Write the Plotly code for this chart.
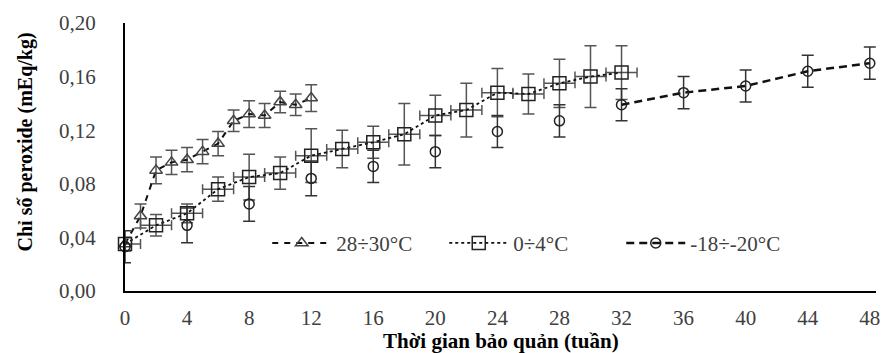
import plotly.graph_objects as go

# ---------------- data ----------------
tri_weeks = [0, 1, 2, 3, 4, 5, 6, 7, 8, 9, 10, 11, 12]
tri_vals = [0.035, 0.056, 0.090, 0.096, 0.098, 0.104, 0.110, 0.127, 0.132, 0.131, 0.141, 0.139, 0.144]
tri_err = [0.005, 0.009, 0.010, 0.009, 0.009, 0.009, 0.009, 0.008, 0.010, 0.009, 0.008, 0.008, 0.010]

sq_weeks = [0, 2, 4, 6, 8, 10, 12, 14, 16, 18, 20, 22, 24, 26, 28, 30, 32]
sq_vals = [0.035, 0.049, 0.058, 0.076, 0.085, 0.088, 0.101, 0.106, 0.111, 0.117, 0.131, 0.135, 0.148, 0.147, 0.155, 0.160, 0.163]
sq_err = [0.005, 0.008, 0.007, 0.009, 0.017, 0.012, 0.020, 0.014, 0.012, 0.023, 0.015, 0.020, 0.018, 0.015, 0.018, 0.023, 0.020]
sq_xerr_plus = [1] * len(sq_weeks)
sq_xerr_minus = [0] + [1] * (len(sq_weeks) - 1)

circ_weeks = [0, 4, 8, 12, 16, 20, 24, 28, 32, 36, 40, 44, 48]
circ_vals = [0.033, 0.049, 0.065, 0.084, 0.093, 0.104, 0.119, 0.127, 0.139, 0.148, 0.153, 0.164, 0.170]
circ_err = [0.012, 0.013, 0.013, 0.013, 0.012, 0.012, 0.012, 0.012, 0.012, 0.012, 0.012, 0.012, 0.012]
circ_line_from = 8  # dashed line drawn from week 32 onwards

y_ticks = [0.00, 0.04, 0.08, 0.12, 0.16, 0.20]
x_ticks = [0, 4, 8, 12, 16, 20, 24, 28, 32, 36, 40, 44, 48]

names = ["28÷30°C", "0÷4°C", "-18÷-20°C"]

FONT = "Liberation Serif"
ERR_COL = "#555555"

fig = go.Figure()

# triangles
fig.add_trace(go.Scatter(
    x=tri_weeks, y=tri_vals, name=names[0], mode="lines+markers",
    line=dict(color="#111111", width=2, dash="6px,6px"),
    marker=dict(symbol="triangle-up-open", size=11, color="#444444", line=dict(width=1.5)),
    error_y=dict(type="data", array=tri_err, color=ERR_COL, thickness=1.5, width=6),
    cliponaxis=False,
))

# squares
fig.add_trace(go.Scatter(
    x=sq_weeks, y=sq_vals, name=names[1], mode="lines+markers",
    line=dict(color="#111111", width=1.8, dash="dot"),
    marker=dict(symbol="square-open", size=13, color="#222222", line=dict(width=1.5)),
    error_y=dict(type="data", array=sq_err, color=ERR_COL, thickness=1.5, width=6),
    error_x=dict(type="data", symmetric=False, array=sq_xerr_plus, arrayminus=sq_xerr_minus,
                 color=ERR_COL, thickness=1.5, width=5),
    cliponaxis=False,
))

# circles (markers only, weeks 0-28)
fig.add_trace(go.Scatter(
    x=circ_weeks[:circ_line_from], y=circ_vals[:circ_line_from], name=names[2],
    mode="markers", showlegend=False,
    marker=dict(symbol="circle-open", size=10, color="#222222", line=dict(width=1.5)),
    error_y=dict(type="data", array=circ_err[:circ_line_from], color="#333333", thickness=1.5, width=6),
    cliponaxis=False,
))
# circles with dashed line (weeks 32-48)
fig.add_trace(go.Scatter(
    x=circ_weeks[circ_line_from:], y=circ_vals[circ_line_from:], name=names[2],
    mode="lines+markers",
    line=dict(color="#111111", width=2.5, dash="8px,5px"),
    marker=dict(symbol="circle-open", size=10, color="#222222", line=dict(width=1.5)),
    error_y=dict(type="data", array=circ_err[circ_line_from:], color="#333333", thickness=1.5, width=6),
    cliponaxis=False,
))

fig.update_layout(
    width=891, height=353,
    margin=dict(l=125, r=11, t=21, b=62),
    paper_bgcolor="white", plot_bgcolor="white",
    separators=",.",
    font=dict(family=FONT, size=21, color="#404040"),
    showlegend=True,
    legend=dict(
        orientation="h", x=0.1894, y=0.178, xanchor="left", yanchor="middle",
        font=dict(family=FONT, size=21, color="#404040"),
        bgcolor="rgba(0,0,0,0)", itemwidth=59,
        entrywidth=103, entrywidthmode="pixels",
    ),
    xaxis=dict(
        range=[0, 48.4], tickvals=x_ticks, ticktext=[str(v) for v in x_ticks],
        showgrid=False, zeroline=False, showline=True, linecolor="black", linewidth=2,
        ticks="", ticklabelstandoff=7,
        tickfont=dict(family=FONT, size=21, color="#404040"),
    ),
    yaxis=dict(
        range=[0, 0.2], tickvals=y_ticks, tickformat=".2f",
        showgrid=False, zeroline=False, showline=True, linecolor="black", linewidth=2,
        ticks="", ticklabelstandoff=23,
        tickfont=dict(family=FONT, size=21, color="#404040"),
    ),
    annotations=[
        dict(text="<b>Chỉ số peroxide (mEq/kg)</b>", xref="paper", yref="paper",
             x=-0.1325, y=0.556, xanchor="center", yanchor="middle", textangle=-90,
             showarrow=False, font=dict(family=FONT, size=20, color="black")),
        dict(text="<b>Thời gian bảo quản (tuần)</b>", xref="paper", yref="paper",
             x=0.5, y=-0.185, xanchor="center", yanchor="middle",
             showarrow=False, font=dict(family=FONT, size=21, color="black")),
    ],
)

fig.write_html("out.html")
